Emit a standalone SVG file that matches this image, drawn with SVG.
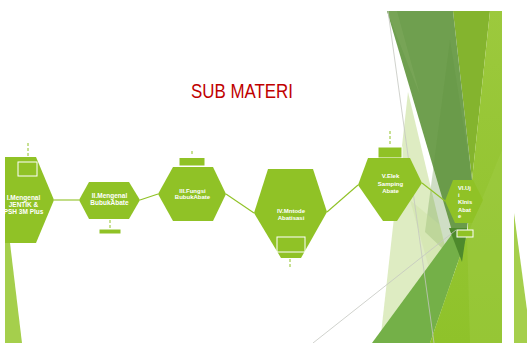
<svg xmlns="http://www.w3.org/2000/svg" width="527" height="343" viewBox="0 0 527 343">
  <defs>
    <linearGradient id="limeGrad" x1="0" y1="0" x2="0" y2="1">
      <stop offset="0" stop-color="#9cc93d"/>
      <stop offset="1" stop-color="#8fc22a"/>
    </linearGradient>
    <clipPath id="facetClip">
      <rect x="370" y="11" width="132" height="332"/>
    </clipPath>
  </defs>
  <style>
    .node { fill: #90c226; }
    .tag { fill: #90c226; stroke: #ffffff; stroke-width: 1; }
    .dash { stroke: #90c226; stroke-width: 1; stroke-dasharray: 3 2; fill: none; }
    .link { stroke: #90c226; stroke-width: 1.1; fill: none; }
    .lbl { font-family: "Liberation Sans", Arial, sans-serif; font-weight: bold; fill: #ffffff; text-anchor: middle; }
    .title { font-family: "Liberation Sans", Arial, sans-serif; font-size: 21px; fill: #c00000; text-anchor: middle; }
    .hair { stroke: #c4c6c0; stroke-width: 0.8; fill: none; }
  </style>

  <rect width="527" height="343" fill="#ffffff"/>

  <!-- faceted background, right side -->
  <g id="facets" clip-path="url(#facetClip)">
    <polygon points="408,92 380,343 468,343" fill="#c8e09a" opacity="0.6"/>
    <polygon points="453,11 490,11 472,180" fill="#84b42e"/>
    <polygon points="387,11 453,11 472,180 463,268" fill="#6f9f4f"/>
    <polygon points="387,11 397,11 420,95" fill="#7aa75a" opacity="0.7"/>
    <polygon points="450,40 472,180 463,268 425,232" fill="#5f9140" opacity="0.3"/>
    <polygon points="410,200 450,343 470,343 440,225" fill="#c8e09a" opacity="0.35"/>
    <polygon points="372,343 455,230 467,236 430,343" fill="#74b048"/>
    <polygon points="490,11 502,11 502,343 430,343 467,236 472,180" fill="url(#limeGrad)"/>
    <polygon points="467,236 502,150 502,343 470,343" fill="#a4cf4a" opacity="0.35"/>
    <polygon points="449,228 467,228 462,262" fill="#4e8a2c"/>
    <line class="hair" x1="388" y1="11" x2="434" y2="343"/>
  </g>
  <line class="hair" x1="313" y1="343" x2="456" y2="230"/>

  <!-- side slivers -->
  <polygon points="5,243 10,243 22,343 5,343" fill="#a5cf4c"/>
  <polygon points="514,213 527,310 527,343 514,343" fill="#a5cf4c"/>

  <text class="title" x="242" y="98" textLength="102" lengthAdjust="spacingAndGlyphs">SUB MATERI</text>

  <!-- connectors -->
  <g id="connectors">
    <line class="link" x1="54" y1="200" x2="79" y2="200"/>
    <line class="link" x1="140" y1="200" x2="158" y2="194"/>
    <line class="link" x1="226" y1="194" x2="254" y2="213"/>
    <line class="link" x1="327" y1="212" x2="358" y2="185"/>
    <line class="link" x1="422" y1="183" x2="445" y2="201"/>
  </g>

  <g id="node1">
    <line class="dash" x1="28" y1="143" x2="28" y2="161"/>
    <polygon class="node" points="5,157 36,157 54,200 36,243 5,243"/>
    <rect class="tag" x="18" y="162" width="19" height="14"/>
    <text class="lbl" font-size="6.5"><tspan x="23.5" y="200">I.Mengenal</tspan><tspan x="23.5" y="207">JENTIK &amp;</tspan><tspan x="23.5" y="214">PSH 3M Plus</tspan></text>
  </g>

  <g id="node2">
    <polygon class="node" points="79,200 89,182 129,182 140,200 129,219 89,219"/>
    <line class="dash" x1="110" y1="220" x2="110" y2="228"/>
    <rect class="tag" x="99" y="229" width="22" height="5"/>
    <text class="lbl" font-size="6.5"><tspan x="109.5" y="198">II.Mengenal</tspan><tspan x="109.5" y="205">BubukAbate</tspan></text>
  </g>

  <g id="node3">
    <line class="dash" x1="192" y1="151" x2="192" y2="156"/>
    <rect class="tag" x="179" y="157.5" width="26" height="8.5"/>
    <polygon class="node" points="158,194 173,167 213,167 226,194 213,221 173,221"/>
    <text class="lbl" font-size="6"><tspan x="192.5" y="193">III.Fungsi</tspan><tspan x="192.5" y="199">BubukAbate</tspan></text>
  </g>

  <g id="node4">
    <polygon class="node" points="254,213 268,169 313,169 327,212 301,258 281,258"/>
    <rect class="tag" x="277" y="237" width="28" height="15"/>
    <line class="dash" x1="290" y1="259" x2="290" y2="268"/>
    <text class="lbl" font-size="6"><tspan x="291" y="213">IV.Mntode</tspan><tspan x="291" y="219.5">Abatisasi</tspan></text>
  </g>

  <g id="node5">
    <line class="dash" x1="390" y1="131" x2="390" y2="146"/>
    <rect class="tag" x="378" y="147" width="24" height="11"/>
    <polygon class="node" points="358,185 368,158 410,158 422,183 397,221 383,221"/>
    <text class="lbl" font-size="6"><tspan x="390.5" y="178">V.Elek</tspan><tspan x="390.5" y="186">Samping</tspan><tspan x="390.5" y="193">Abate</tspan></text>
  </g>

  <g id="node6">
    <polygon class="node" points="445,201 453,180 473,180 483,200 472,223 455,223"/>
    <rect class="tag" x="457" y="230" width="16" height="7"/>
    <text class="lbl" font-size="5.8" style="text-anchor:start"><tspan x="458" y="190">VI.Uj</tspan><tspan x="458" y="196.5">i</tspan><tspan x="458" y="204">Klnis</tspan><tspan x="458" y="211.5">Abat</tspan><tspan x="458" y="218">e</tspan></text>
  </g>
</svg>
